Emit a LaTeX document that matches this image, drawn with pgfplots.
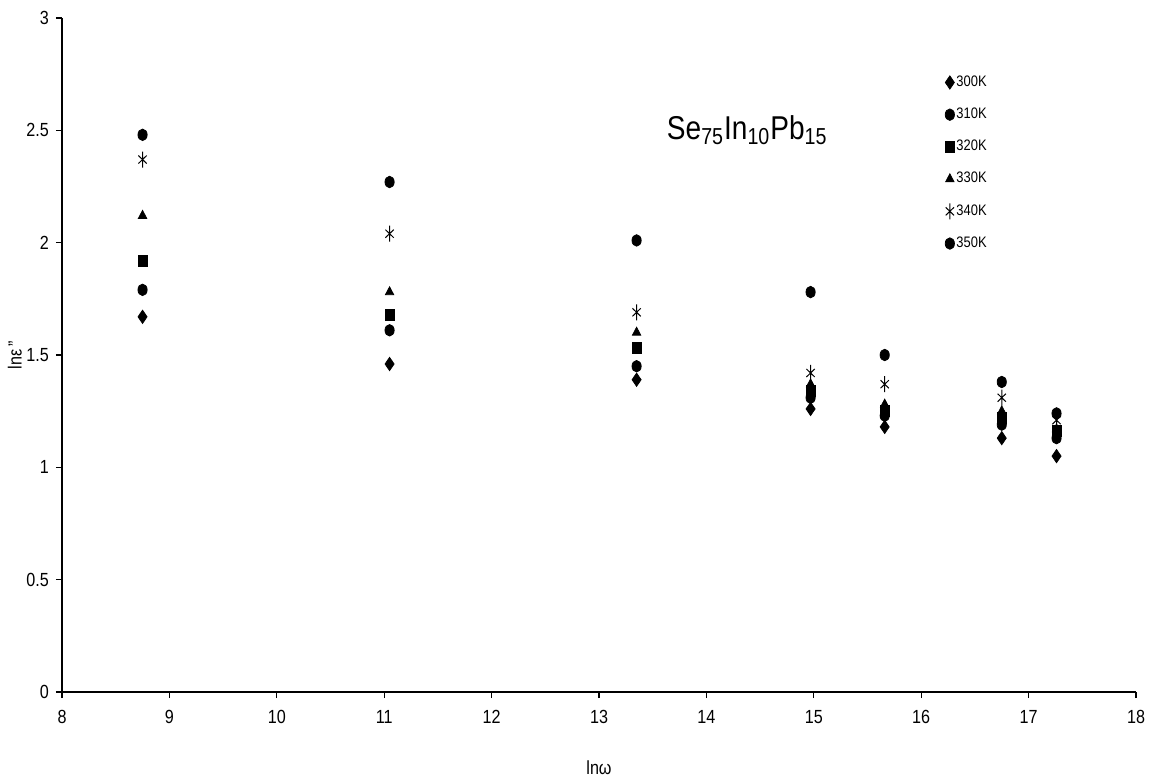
\documentclass[border=0pt]{standalone}
\usepackage{fontspec}
\setmainfont{Liberation Sans}[FakeStretch=0.85]
\usepackage{pgfplots}
\pgfplotsset{compat=1.18}
\usetikzlibrary{calc}
\begin{document}
\begin{tikzpicture}[x=1pt,y=1pt]
\begin{axis}[
  name=ax,
  scale only axis,
  width=537pt, height=337pt,
  xmin=8, xmax=18, ymin=0, ymax=3,
  xtick={8,9,...,18},
  ytick={0,0.5,1,1.5,2,2.5,3},
  axis lines*=left,
  tick align=outside,
  major tick length=3pt,
  axis line style={black, line width=0.6pt},
  tick style={black, line width=0.6pt},
  /pgf/number format/assume math mode=true,
  ticklabel style={font=\fontsize{9.5}{11}\selectfont},
  xticklabel style={yshift=-2.5pt},
  xlabel={lnω},
  xlabel style={at={(axis description cs:0.5,-0.113)}, anchor=center, font=\fontsize{9.5}{11}\selectfont},
  ylabel={lnε\,''},
  ylabel style={at={(axis description cs:-0.044,0.5)}, anchor=center, rotate=0, font=\fontsize{9.5}{11}\selectfont},
  legend cell align=left,
  legend style={draw=none, fill=none, font=\fontsize{7.6}{8.8}\selectfont,
    at={(axis description cs:0.822,0.918)}, anchor=north west,
    row sep=7.3pt, inner sep=0pt, nodes={inner sep=1pt}},
  every axis plot/.append style={only marks, black},
]
\addplot[mark=diamond*, mark size=3pt, mark options={fill=black, yscale=1.1}] coordinates {
(8.75,1.67) (11.05,1.46) (13.35,1.39) (14.97,1.26) (15.66,1.18) (16.75,1.13) (17.26,1.05)};
\addlegendentry{300K}
\addplot[mark=*, mark size=2.3pt, mark options={fill=black, yscale=1.25}] coordinates {
(8.75,1.79) (11.05,1.61) (13.35,1.45) (14.97,1.31) (15.66,1.23) (16.75,1.19) (17.26,1.13)};
\addlegendentry{310K}
\addplot[mark=square*, mark size=2.2pt, mark options={fill=black, yscale=1.25}] coordinates {
(8.75,1.92) (11.05,1.68) (13.35,1.53) (14.97,1.34) (15.66,1.25) (16.75,1.22) (17.26,1.16)};
\addlegendentry{320K}
\addplot[mark=triangle*, mark size=2.4pt, mark options={fill=black, yscale=1.1}] coordinates {
(8.75,2.12) (11.05,1.78) (13.35,1.60) (14.97,1.37) (15.66,1.28) (16.75,1.25) (17.26,1.17)};
\addlegendentry{330K}
\addplot[mark=asterisk, mark size=4pt, mark options={xscale=0.6, line width=0.5pt}] coordinates {
(8.75,2.37) (11.05,2.04) (13.35,1.69) (14.97,1.42) (15.66,1.37) (16.75,1.31) (17.26,1.21)};
\addlegendentry{340K}
\addplot[mark=*, mark size=2.3pt, mark options={fill=black, yscale=1.25}] coordinates {
(8.75,2.48) (11.05,2.27) (13.35,2.01) (14.97,1.78) (15.66,1.50) (16.75,1.38) (17.26,1.24)};
\addlegendentry{350K}
\node[font=\fontsize{16.5}{19}\selectfont, anchor=center] at (axis cs:14.38,2.5)
  {Se\textsubscript{75}In\textsubscript{10}Pb\textsubscript{15}};
\end{axis}
\pgfresetboundingbox
\path ($(ax.south west)+(-31pt,-45pt)$) rectangle ($(ax.north east)+(12pt,9pt)$);
\end{tikzpicture}
\end{document}
